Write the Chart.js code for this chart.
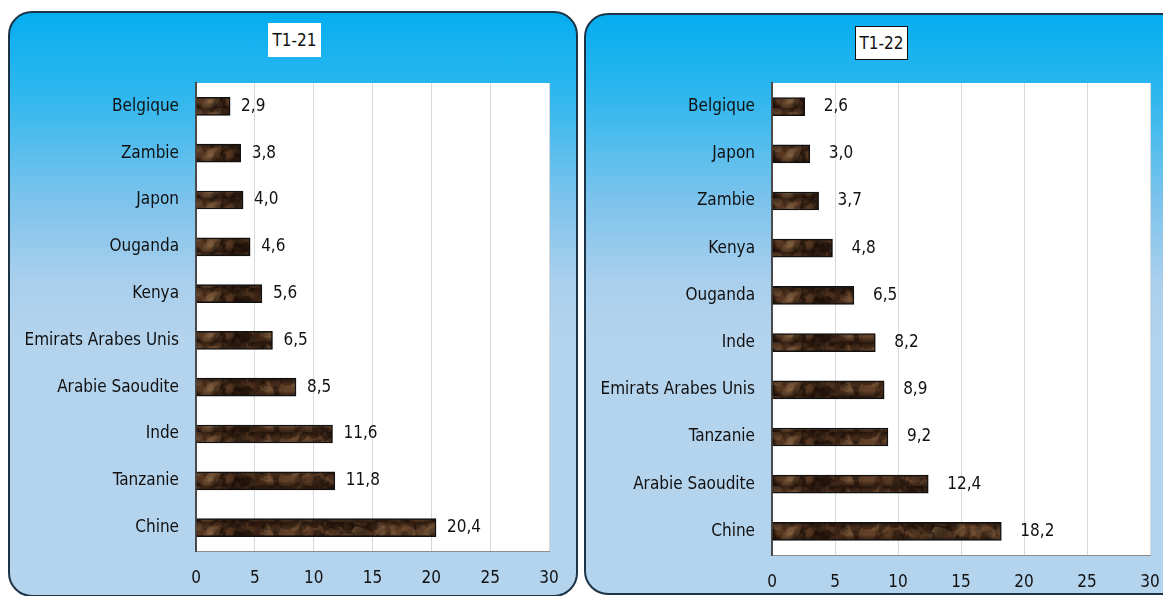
<!DOCTYPE html>
<html>
<head>
<meta charset="utf-8">
<script src="https://cdn.jsdelivr.net/npm/chart.js@4.4.1/dist/chart.umd.min.js"></script>
<style>
  body { margin: 0; background: #fff; width: 1163px; height: 596px; overflow: hidden; position: relative; }
  .panel {
    position: absolute;
    border: 2px solid #1d3446;
    border-radius: 24px;
    background: linear-gradient(to bottom, #05aef0 0%, #2fb7ee 14%, #7cc3ec 32%, #a9cfec 46%, #b4d3ed 56%, #b4d3ed 100%);
    box-sizing: border-box;
  }
  #p1 { left: 8px; top: 11px; width: 570px; height: 586px; }
  #p2 { left: 584px; top: 13px; width: 620px; height: 582px; }
  canvas { position: absolute; top: 0; }
  #c1 { left: 0; }
  #c2 { left: 580px; }
  .title {
    position: absolute; background: #fff; text-align: center;
    font-family: "DejaVu Sans Condensed", sans-serif;
    font-size: 17px; line-height: 34px; color: #111; box-sizing: border-box;
  }
  #t1 { left: 268px; top: 23px; width: 53px; height: 34px; }
  #t2 { left: 855px; top: 26px; width: 53px; height: 34px; border: 1px solid #111; line-height: 32px; }
</style>
</head>
<body>
<div class="panel" id="p1"></div>
<div class="panel" id="p2"></div>
<div class="title" id="t1">T1-21</div>
<div class="title" id="t2">T1-22</div>
<canvas id="c1" width="580" height="596"></canvas>
<canvas id="c2" width="583" height="596"></canvas>
<script>
const countries21 = ["Belgique", "Zambie", "Japon", "Ouganda", "Kenya", "Emirats Arabes Unis", "Arabie Saoudite", "Inde", "Tanzanie", "Chine"];
const values21 = [2.9, 3.8, 4.0, 4.6, 5.6, 6.5, 8.5, 11.6, 11.8, 20.4];

const countries22 = ["Belgique", "Japon", "Zambie", "Kenya", "Ouganda", "Inde", "Emirats Arabes Unis", "Tanzanie", "Arabie Saoudite", "Chine"];
const values22 = [2.6, 3.0, 3.7, 4.8, 6.5, 8.2, 8.9, 9.2, 12.4, 18.2];

const xTicks = [0, 5, 10, 15, 20, 25, 30];

const FONT = "'DejaVu Sans Condensed', sans-serif";
const FSIZE = 17;

// marbled brown texture for the bars
function makeTexture() {
  const c = document.createElement("canvas");
  c.width = 260; c.height = 18;
  const g = c.getContext("2d");
  g.fillStyle = "#3a2214";
  g.fillRect(0, 0, c.width, c.height);
  let s = 11;
  const rnd = () => { s = (s * 16807) % 2147483647; return s / 2147483647; };
  for (let i = 0; i < 200; i++) {
    const x = rnd() * c.width, y = rnd() * c.height;
    const r = 2 + rnd() * 6;
    const shade = rnd();
    const col = shade > 0.75 ? "rgba(150,115,80,0.28)" : shade > 0.4 ? "rgba(100,66,40,0.40)" : "rgba(25,13,6,0.45)";
    g.fillStyle = col;
    g.beginPath();
    g.ellipse(x, y, r * 1.4, r * 0.8, rnd() * Math.PI, 0, Math.PI * 2);
    g.fill();
  }
  // darker rim top and bottom
  const grd = g.createLinearGradient(0, 0, 0, c.height);
  grd.addColorStop(0, "rgba(20,10,5,0.45)");
  grd.addColorStop(0.3, "rgba(20,10,5,0)");
  grd.addColorStop(0.7, "rgba(20,10,5,0)");
  grd.addColorStop(1, "rgba(20,10,5,0.45)");
  g.fillStyle = grd;
  g.fillRect(0, 0, c.width, c.height);
  return g.createPattern(c, "repeat");
}

const whiteArea = {
  id: "whiteArea",
  beforeDraw(chart) {
    const { ctx, chartArea: a } = chart;
    ctx.save();
    ctx.fillStyle = "#ffffff";
    ctx.fillRect(a.left, a.top, a.right - a.left, a.bottom - a.top);
    ctx.restore();
  }
};

const valueLabels = {
  id: "valueLabels",
  afterDatasetsDraw(chart, args, opts) {
    const { ctx } = chart;
    const meta = chart.getDatasetMeta(0);
    ctx.save();
    ctx.font = FSIZE + "px " + FONT;
    ctx.fillStyle = "#111";
    ctx.textBaseline = "middle";
    ctx.textAlign = "left";
    meta.data.forEach((bar, i) => {
      const v = chart.data.datasets[0].data[i];
      ctx.fillText(v.toFixed(1).replace(".", ","), bar.x + opts.offset, bar.y);
    });
    ctx.restore();
  }
};

function buildChart(id, labels, data, geo) {
  const ctx = document.getElementById(id).getContext("2d");
  return new Chart(ctx, {
    type: "bar",
    data: {
      labels,
      datasets: [{
        data,
        backgroundColor: makeTexture(),
        borderColor: "#111",
        borderWidth: 1.5,
        borderSkipped: "left",
        barThickness: 18
      }]
    },
    options: {
      indexAxis: "y",
      responsive: false,
      animation: false,
      layout: { padding: { left: 0, right: geo.right, top: 83, bottom: geo.bottom } },
      plugins: {
        legend: { display: false },
        tooltip: { enabled: false },
        valueLabels: { offset: geo.offset }
      },
      scales: {
        x: {
          min: 0, max: 30,
          afterBuildTicks: s => { s.ticks = xTicks.map(v => ({ value: v })); },
          afterFit: s => { s.height = 40; s.paddingLeft = 0; s.paddingRight = 0; },
          grid: { color: "#d9d9d9", lineWidth: 1, drawTicks: false },
          border: { color: "#8c8c8c", width: 1 },
          ticks: { color: "#111", font: { family: FONT, size: FSIZE }, padding: 17 }
        },
        y: {
          afterFit: s => { s.width = geo.axisW; },
          grid: { display: false, drawTicks: false },
          border: { color: "#4a4a4a", width: 2 },
          ticks: { color: "#111", font: { family: FONT, size: FSIZE }, padding: 17 }
        }
      }
    },
    plugins: [whiteArea, valueLabels]
  });
}

buildChart("c1", countries21, values21, { axisW: 196, right: 31, bottom: 5, offset: 11 });
buildChart("c2", countries22, values22, { axisW: 192, right: 13, bottom: 1, offset: 19 });
</script>
</body>
</html>
